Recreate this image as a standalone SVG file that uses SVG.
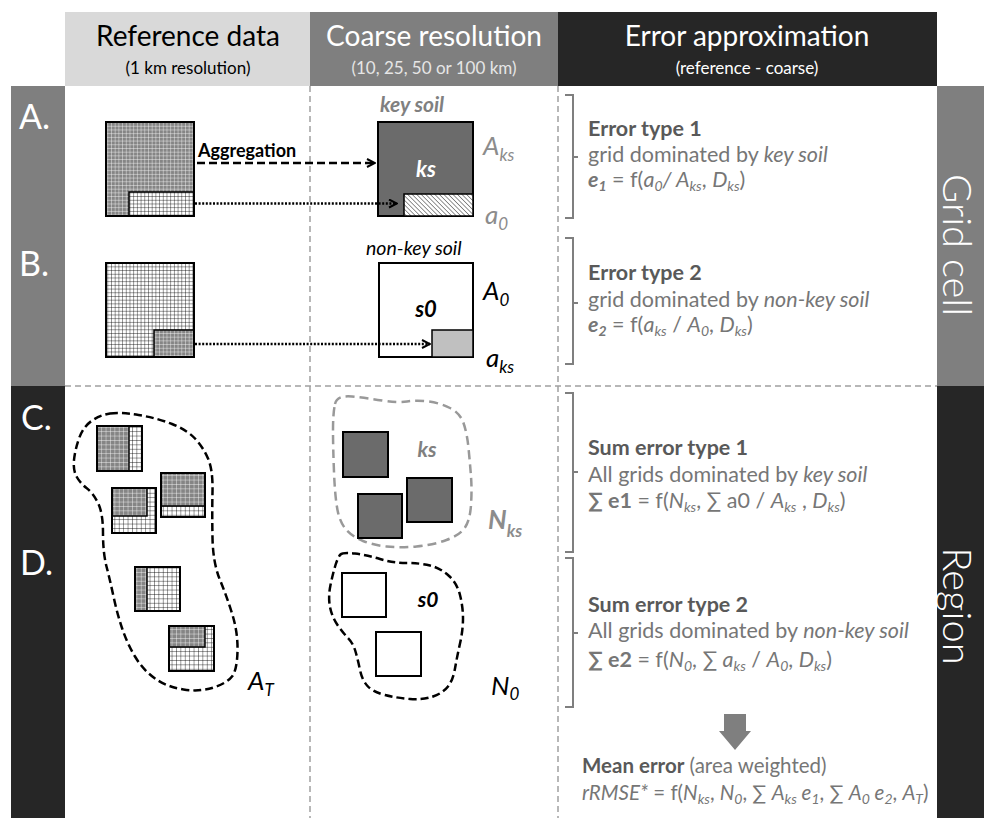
<svg xmlns="http://www.w3.org/2000/svg" width="984" height="818" viewBox="0 0 984 818">
<style>
text{font-family:Lato,"Open Sans","Liberation Sans",sans-serif}
.hd{font-size:28px}
.hs{font-size:17px}
.side{font-size:34px;fill:#fff}
.band{font-size:40px;fill:#fff;font-weight:300}
.ttl{font-size:21.5px;font-weight:bold;fill:#595959}
.bd{font-size:21.5px;fill:#767676}
.md{font-size:20.5px;fill:#767676}
.i{font-style:italic}
.b{font-weight:bold}
.sub{font-size:14px}
.lbl{font-size:26px;font-style:italic}
.lsub{font-size:17px}
.sep{stroke:#a0a0a0;stroke-width:1.5;stroke-dasharray:6 4;fill:none}
.brk{stroke:#7f7f7f;stroke-width:2;fill:none}
.ol{stroke:#000;stroke-width:2}
.in{stroke:#000;stroke-width:1.5}
</style>
<defs>
<pattern id="gw" width="3.7" height="3.7" patternUnits="userSpaceOnUse"><rect width="3.7" height="3.7" fill="#fff"/><path d="M0,0H3.7M0,0V3.7" stroke="#000" stroke-width="0.8"/></pattern>
<pattern id="gg" width="3.7" height="3.7" patternUnits="userSpaceOnUse"><rect width="3.7" height="3.7" fill="#858585"/><path d="M0,0H3.7M0,0V3.7" stroke="#fff" stroke-width="0.8"/></pattern>
<pattern id="gw2" width="4.4" height="4.4" patternUnits="userSpaceOnUse"><rect width="4.4" height="4.4" fill="#fff"/><path d="M0,0H4.4M0,0V4.4" stroke="#000" stroke-width="0.8"/></pattern>
<pattern id="gg2" width="4.4" height="4.4" patternUnits="userSpaceOnUse"><rect width="4.4" height="4.4" fill="#858585"/><path d="M0,0H4.4M0,0V4.4" stroke="#fff" stroke-width="0.8"/></pattern>
<pattern id="hatch" width="3.2" height="3.2" patternUnits="userSpaceOnUse" patternTransform="rotate(-45)"><rect width="3.2" height="3.2" fill="#fff"/><path d="M0,0V3.2" stroke="#666" stroke-width="1.4"/></pattern>
<marker id="chev" viewBox="0 0 10 10" refX="9" refY="5" markerWidth="10" markerHeight="10" markerUnits="userSpaceOnUse" orient="auto"><path d="M1,1 L9,5 L1,9" fill="none" stroke="#000" stroke-width="2" stroke-dasharray="none"/></marker>
</defs>

<g id="header">
<rect x="65" y="12" width="245" height="74" fill="#d9d9d9"/>
<rect x="310" y="12" width="248" height="74" fill="#7f7f7f"/>
<rect x="558" y="12" width="379" height="74" fill="#262626"/>
<text class="hd" x="188" y="46" text-anchor="middle" fill="#000">Reference data</text>
<text class="hs" x="188" y="74" text-anchor="middle" fill="#000">(1 km resolution)</text>
<text class="hd" x="434" y="46" text-anchor="middle" fill="#fff">Coarse resolution</text>
<text class="hs" x="434" y="74" text-anchor="middle" fill="#e6e6e6">(10, 25, 50 or 100 km)</text>
<text class="hd" x="747" y="46" text-anchor="middle" fill="#fff">Error approximation</text>
<text class="hs" x="747" y="74" text-anchor="middle" fill="#fff">(reference - coarse)</text>
</g>

<g id="side-left">
<rect x="11" y="86" width="54" height="300" fill="#7f7f7f"/>
<rect x="11" y="386" width="54" height="432" fill="#262626"/>
<text class="side" x="19" y="129">A.</text>
<text class="side" x="19" y="276">B.</text>
<text class="side" x="21" y="430">C.</text>
<text class="side" x="20" y="575">D.</text>
</g>

<g id="side-right">
<rect x="937" y="86" width="47" height="300" fill="#7f7f7f"/>
<rect x="937" y="386" width="47" height="432" fill="#262626"/>
<text class="band" transform="translate(943,245) rotate(90)" text-anchor="middle">Grid cell</text>
<text class="band" transform="translate(943,606) rotate(90)" text-anchor="middle">Region</text>
</g>

<g id="separators">
<path class="sep" d="M310,86V818M558,86V818M65,386H937"/>
</g>

<g id="ref-a">
<rect x="106" y="122" width="88" height="94" fill="url(#gg)"/>
<rect class="in" x="129" y="192" width="65" height="24" fill="url(#gw)"/>
<rect class="ol" x="106" y="122" width="88" height="94" fill="none"/>
</g>
<g id="ref-b">
<rect x="106" y="263" width="88" height="94" fill="url(#gw)"/>
<rect class="in" x="154" y="330" width="40" height="27" fill="url(#gg)"/>
<rect class="ol" x="106" y="263" width="88" height="94" fill="none"/>
</g>

<g id="coarse-a">
<text x="380" y="112" font-size="21" font-weight="bold" font-style="italic" fill="#808080">key soil</text>
<rect class="ol" x="378" y="122" width="95" height="94" fill="#6b6b6b"/>
<rect class="in" x="404" y="194" width="69" height="22" fill="url(#hatch)"/>
<text x="426" y="177" font-size="22" font-weight="bold" font-style="italic" fill="#fff" text-anchor="middle">ks</text>
<text class="lbl" x="483" y="155" fill="#8c8c8c">A<tspan class="lsub" dy="6">ks</tspan></text>
<text class="lbl" x="485" y="224" fill="#8c8c8c">a<tspan class="lsub" dy="6">0</tspan></text>
</g>

<g id="coarse-b">
<text x="366" y="255" font-size="19.5" font-style="italic" fill="#000">non-key soil</text>
<rect class="ol" x="379" y="263" width="94" height="94" fill="#fff"/>
<rect class="in" x="432" y="330" width="41" height="27" fill="#c0c0c0"/>
<text x="426" y="317" font-size="22" font-weight="bold" font-style="italic" fill="#000" text-anchor="middle">s0</text>
<text class="lbl" x="483" y="300" fill="#000">A<tspan class="lsub" dy="6">0</tspan></text>
<text class="lbl" x="486" y="367" fill="#000">a<tspan class="lsub" dy="6">ks</tspan></text>
</g>

<g id="connectors">
<path d="M197,163H375" stroke="#000" stroke-width="2.5" stroke-dasharray="8 4" fill="none" marker-end="url(#chev)"/>
<path d="M195,203.5H397" stroke="#000" stroke-width="2.5" stroke-dasharray="2 1.6" fill="none" marker-end="url(#chev)"/>
<path d="M195,344H430" stroke="#000" stroke-width="2.5" stroke-dasharray="2 1.6" fill="none" marker-end="url(#chev)"/>
<text x="198" y="157" font-size="18" font-weight="bold" fill="#000">Aggregation</text>
</g>

<g id="error-1">
<path class="brk" d="M565,95H573V218H565M573,157H578"/>
<text class="ttl" x="588" y="136">Error type 1</text>
<text class="bd" x="588" y="162">grid dominated by <tspan class="i">key soil</tspan></text>
<text class="bd" x="588" y="187"><tspan class="b i">e</tspan><tspan class="b i sub" dy="4">1</tspan><tspan dy="-4"> = f(</tspan><tspan class="i">a</tspan><tspan class="i sub" dy="4">0</tspan><tspan dy="-4" class="i">/ A</tspan><tspan class="i sub" dy="4">ks</tspan><tspan dy="-4">, </tspan><tspan class="i">D</tspan><tspan class="i sub" dy="4">ks</tspan><tspan dy="-4">)</tspan></text>
</g>

<g id="error-2">
<path class="brk" d="M565,238H573V364H565M573,303H578"/>
<text class="ttl" x="588" y="280">Error type 2</text>
<text class="bd" x="588" y="307">grid dominated by <tspan class="i">non-key soil</tspan></text>
<text class="bd" x="588" y="332"><tspan class="b i">e</tspan><tspan class="b i sub" dy="4">2</tspan><tspan dy="-4"> = f(</tspan><tspan class="i">a</tspan><tspan class="i sub" dy="4">ks</tspan><tspan dy="-4">  / </tspan><tspan class="i">A</tspan><tspan class="i sub" dy="4">0</tspan><tspan dy="-4">, </tspan><tspan class="i">D</tspan><tspan class="i sub" dy="4">ks</tspan><tspan dy="-4">)</tspan></text>
</g>

<g id="region-ref">
<path d="M110,413.5 Q120,412 138.5,415 Q157,418 172,424 Q187,430 195,438.5 Q203,447 208,458.5 Q213,470 212.5,491.5 Q212,513 212.5,538 Q213,563 220,580 Q227,597 232.5,615 Q238,633 237.5,651.5 Q237,670 232,676.5 Q227,683 213.5,687.5 Q200,692 183.5,689.5 Q167,687 155,678.5 Q143,670 135,656.5 Q127,643 122,628 Q117,613 113.5,596.5 Q110,580 106.5,566.5 Q103,553 103,533 Q103,513 98,503 Q93,493 86.5,488 Q80,483 76.5,476.5 Q73,470 74,460 Q75,450 79,438.5 Q83,427 91.5,421 Q100,415 110,413.5 Z" fill="none" stroke="#000" stroke-width="2.5" stroke-dasharray="8 4"/>
<g id="rs1"><rect x="97" y="426" width="45" height="45" fill="url(#gw2)"/><rect class="in" x="97" y="426" width="32" height="45" fill="url(#gg2)"/><rect class="ol" x="97" y="426" width="45" height="45" fill="none"/></g>
<g id="rs2"><rect x="112" y="488" width="44" height="45" fill="url(#gw2)"/><rect class="in" x="112" y="488" width="35" height="28" fill="url(#gg2)"/><rect class="ol" x="112" y="488" width="44" height="45" fill="none"/></g>
<g id="rs3"><rect x="161" y="473" width="44" height="44" fill="url(#gw2)"/><rect class="in" x="161" y="473" width="44" height="33" fill="url(#gg2)"/><rect class="ol" x="161" y="473" width="44" height="44" fill="none"/></g>
<g id="rs4"><rect x="135" y="567" width="45" height="44" fill="url(#gw2)"/><rect class="in" x="135" y="567" width="12" height="44" fill="url(#gg2)"/><rect class="ol" x="135" y="567" width="45" height="44" fill="none"/></g>
<g id="rs5"><rect x="169" y="626" width="45" height="45" fill="url(#gw2)"/><rect class="in" x="169" y="626" width="36" height="21" fill="url(#gg2)"/><rect class="ol" x="169" y="626" width="45" height="45" fill="none"/></g>
<text class="lbl" x="248" y="690" fill="#000">A<tspan class="lsub" dy="6">T</tspan></text>
</g>

<g id="region-ks">
<path d="M335,404 Q337,395 352,396.5 Q367,398 382,400.5 Q397,403 407,401.5 Q417,400 428.5,401.5 Q440,403 450,408 Q460,413 463.5,423 Q467,433 468.5,448 Q470,463 471,476.5 Q472,490 471,505 Q470,520 465,527.5 Q460,535 446.5,540 Q433,545 416.5,546.5 Q400,548 386.5,546.5 Q373,545 363,541 Q353,537 346.5,530 Q340,523 337.5,510 Q335,497 334,472 Q333,447 333,430 Q333,413 335,404 Z" fill="none" stroke="#999" stroke-width="2.5" stroke-dasharray="9 5"/>
<rect class="ol" x="343" y="432" width="45" height="45" fill="#6b6b6b"/>
<rect class="ol" x="407" y="478" width="45" height="44" fill="#6b6b6b"/>
<rect class="ol" x="358" y="494" width="44" height="44" fill="#6b6b6b"/>
<text x="427" y="457" font-size="21" font-weight="bold" font-style="italic" fill="#808080" text-anchor="middle">ks</text>
<text class="lbl" x="488" y="529" fill="#8c8c8c" font-weight="bold">N<tspan class="lsub" dy="8">ks</tspan></text>
</g>

<g id="region-s0">
<path d="M340.5,554.5 Q343,552 355,553.5 Q367,555 380,559 Q393,563 406.5,563 Q420,563 430,565.5 Q440,568 448.5,575.5 Q457,583 460,595 Q463,607 463,618.5 Q463,630 460,643.5 Q457,657 455,668.5 Q453,680 448,686.5 Q443,693 433,696.5 Q423,700 410,699 Q397,698 385,695 Q373,692 367.5,686 Q362,680 360,670 Q358,660 355.5,651.5 Q353,643 348,638 Q343,633 337.5,625 Q332,617 330,607 Q328,597 330.5,585 Q333,573 335.5,565 Q338,557 340.5,554.5 Z" fill="none" stroke="#000" stroke-width="2.5" stroke-dasharray="8 4"/>
<rect class="ol" x="342" y="573" width="44" height="44" fill="#fff"/>
<rect class="ol" x="376" y="632" width="45" height="44" fill="#fff"/>
<text x="428" y="607" font-size="21" font-weight="bold" font-style="italic" fill="#000" text-anchor="middle">s0</text>
<text class="lbl" x="491" y="695" fill="#000">N<tspan class="lsub" dy="5">0</tspan></text>
</g>

<g id="sum-1">
<path class="brk" d="M565,393H573V552H565M573,472H578"/>
<text class="ttl" x="588" y="455">Sum error type 1</text>
<text class="bd" x="588" y="482">All grids dominated by <tspan class="i">key soil</tspan></text>
<text class="bd" x="588" y="508"><tspan class="b">∑ e1</tspan> = f(<tspan class="i">N</tspan><tspan class="i sub" dy="4">ks</tspan><tspan dy="-4">, ∑ a0 / </tspan><tspan class="i">A</tspan><tspan class="i sub" dy="4">ks</tspan><tspan dy="-4"> , </tspan><tspan class="i">D</tspan><tspan class="i sub" dy="4">ks</tspan><tspan dy="-4">)</tspan></text>
</g>

<g id="sum-2">
<path class="brk" d="M565,558H573V707H565M573,633H578"/>
<text class="ttl" x="588" y="612">Sum error type 2</text>
<text class="bd" x="588" y="638">All grids dominated by <tspan class="i">non-key soil</tspan></text>
<text class="bd" x="588" y="667"><tspan class="b">∑ e2</tspan> = f(<tspan class="i">N</tspan><tspan class="i sub" dy="4">0</tspan><tspan dy="-4">, ∑ </tspan><tspan class="i">a</tspan><tspan class="i sub" dy="4">ks</tspan><tspan dy="-4"> / </tspan><tspan class="i">A</tspan><tspan class="i sub" dy="4">0</tspan><tspan dy="-4">, </tspan><tspan class="i">D</tspan><tspan class="i sub" dy="4">ks</tspan><tspan dy="-4">)</tspan></text>
</g>

<g id="mean">
<path d="M724,714H746V731H751L735,750L719,731H724Z" fill="#7f7f7f"/>
<text class="md" x="582" y="773"><tspan class="b" fill="#595959">Mean error</tspan> (area weighted)</text>
<text class="md" x="582" y="800"><tspan class="i">rRMSE*</tspan> = f(<tspan class="i">N</tspan><tspan class="i sub" dy="4">ks</tspan><tspan dy="-4">, </tspan><tspan class="i">N</tspan><tspan class="i sub" dy="4">0</tspan><tspan dy="-4">, ∑ </tspan><tspan class="i">A</tspan><tspan class="i sub" dy="4">ks</tspan><tspan dy="-4" class="i"> e</tspan><tspan class="i sub" dy="4">1</tspan><tspan dy="-4">, ∑ </tspan><tspan class="i">A</tspan><tspan class="i sub" dy="4">0</tspan><tspan dy="-4" class="i"> e</tspan><tspan class="i sub" dy="4">2</tspan><tspan dy="-4">, </tspan><tspan class="i">A</tspan><tspan class="i sub" dy="4">T</tspan><tspan dy="-4">)</tspan></text>
</g>
</svg>
